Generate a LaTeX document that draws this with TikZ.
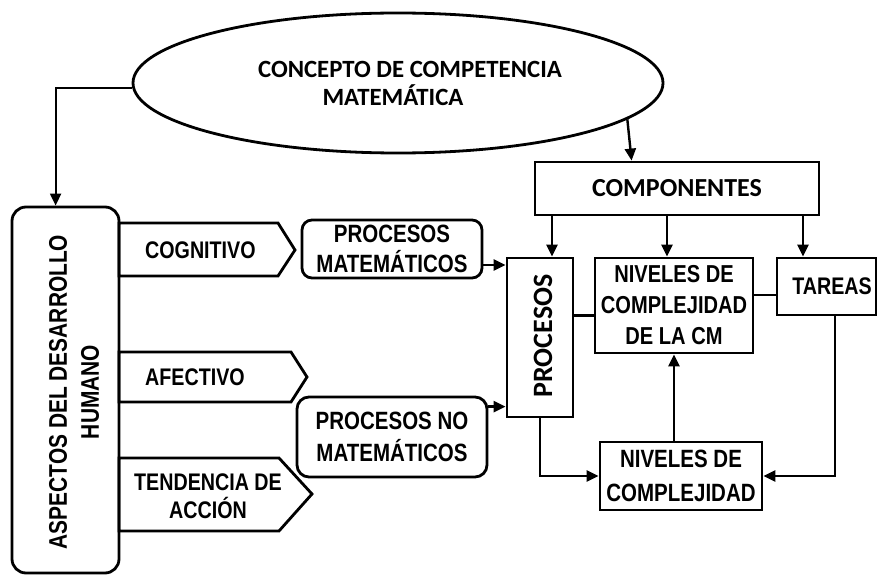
\documentclass[tikz,border=0pt]{standalone}
\usepackage{fontspec}
\usetikzlibrary{arrows.meta,calc,shapes.geometric}
\newfontfamily\narrowfont{Liberation Sans}[FakeStretch=0.82]
\newfontfamily\calfont{Carlito}
\tikzset{
  box/.style={draw, line width=2.8pt, inner sep=0pt, align=center},
  conn/.style={line width=2.6pt, -{Triangle[length=12pt,width=11pt]}},
  plain/.style={line width=2.6pt},
  txt/.style={font=\narrowfont\bfseries\fontsize{24}{30}\selectfont, align=center, inner sep=0pt},
  pent/.style={draw, line width=2.8pt, line join=miter},
}
\begin{document}
\begin{tikzpicture}[x=1pt,y=-1pt]
\useasboundingbox[fill=white] (0,0) rectangle (877,575);

% top ellipse
\node[ellipse, draw, line width=2.8pt, minimum width=530pt, minimum height=140pt, inner sep=0pt,
      align=center, font=\calfont\bfseries\fontsize{24.8}{28}\selectfont] (ell) at (398,83)
      {\hspace*{24pt}CONCEPTO DE COMPETENCIA\\\hspace*{-10pt}MATEMÁTICA};

% left box
\node[box, rounded corners=14pt, minimum width=107pt, minimum height=366pt] (asp) at (65.5,390) {};
\node[txt, rotate=90, font=\narrowfont\bfseries\fontsize{25.5}{32}\selectfont] (asplbl) at (74,392)
      {ASPECTOS DEL DESARROLLO\\HUMANO};

% pentagons
\draw[pent] (119,223) -- (278,223) -- (295,250) -- (278,276) -- (119,276) -- cycle;
\node[txt, anchor=west] (cog) at (145,250) {COGNITIVO};
\draw[pent] (119,352) -- (291,352) -- (307,377) -- (291,402) -- (119,402) -- cycle;
\node[txt, anchor=west] (afe) at (145,377) {AFECTIVO};
\draw[pent] (119,458) -- (279,458) -- (312,494) -- (279,531) -- (119,531) -- cycle;
\node[txt, font=\narrowfont\bfseries\fontsize{24}{28}\selectfont] (ten) at (208,496) {TENDENCIA DE\\ACCIÓN};

% process boxes
\node[box, rounded corners=10pt, minimum width=180pt, minimum height=58pt,
      font=\narrowfont\bfseries\fontsize{25}{30}\selectfont] (pm) at (392,249) {PROCESOS\\MATEMÁTICOS};
\node[box, rounded corners=12pt, minimum width=190pt, minimum height=80pt,
      font=\narrowfont\bfseries\fontsize{25}{32}\selectfont] (pnm) at (392,437) {PROCESOS NO\\MATEMÁTICOS};

\node[box, minimum width=66pt, minimum height=159pt] (proc) at (540,337.5) {};
\node[rotate=90, inner sep=0pt, font=\calfont\bfseries\fontsize{28}{30}\selectfont] (proclbl) at (543,336) {PROCESOS};

\node[box, minimum width=284pt, minimum height=53pt, font=\calfont\bfseries\fontsize{26}{30}\selectfont] (comp) at (677,188.5) {COMPONENTES};

\node[box, minimum width=158pt, minimum height=95pt,
      font=\narrowfont\bfseries\fontsize{24.5}{31}\selectfont] (ncm) at (674,305.5) {NIVELES DE\\COMPLEJIDAD\\DE LA CM};
\node[box, minimum width=99pt, minimum height=57pt,
      font=\narrowfont\bfseries\fontsize{24}{30}\selectfont] (tar) at (826.5,286.5) {\hspace*{11pt}TAREAS};
\node[box, minimum width=162pt, minimum height=68pt,
      font=\narrowfont\bfseries\fontsize{25}{34}\selectfont] (ncx) at (681,476) {NIVELES DE\\COMPLEJIDAD};

% connectors
\draw[conn, line width=2pt] (ell.181) -| ($(asp.north west)+(45,0)$);
\draw[conn, line width=2.4pt] (ell.-9) -- ($(comp.north west)+(98,0)$);

\coordinate (pmout) at ($(pm.east)+(0,16)$);
\draw[conn] (pmout) -- (proc.west |- pmout);
\coordinate (pnmout) at ($(pnm.north east)+(0,11)$);
\draw[conn] (pnmout) -- (proc.west |- pnmout);

\coordinate (procin) at ($(proc.north)+(12,0)$);
\draw[conn] (comp.south -| procin) -- (procin);
\coordinate (ncmin) at ($(ncm.north)+(-7,0)$);
\draw[conn] (comp.south -| ncmin) -- (ncmin);
\coordinate (tarin) at ($(tar.north)+(-23.5,0)$);
\draw[conn] (comp.south -| tarin) -- (tarin);

\coordinate (pn) at ($(ncm.west)+(0,10)$);
\draw[plain] (proc.east |- pn) -- (pn);
\coordinate (nta) at ($(tar.west)+(0,8.5)$);
\draw[plain] (ncm.east |- nta) -- (nta);

\draw[conn] (proc.south) |- (ncx.west);
\coordinate (tout) at ($(tar.south)+(8.5,0)$);
\draw[conn] (tout) |- (ncx.east);
\draw[conn] (ncm.south |- ncx.north) -- (ncm.south);
\end{tikzpicture}
\end{document}
